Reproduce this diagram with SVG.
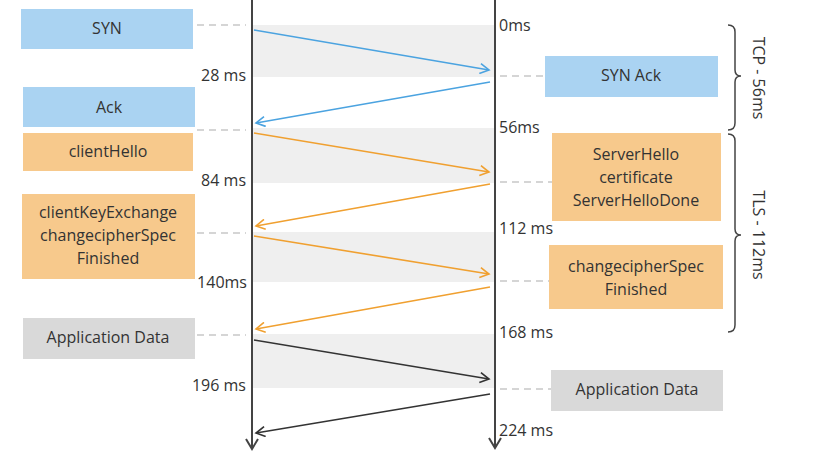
<svg xmlns="http://www.w3.org/2000/svg" width="816" height="463" viewBox="0 0 816 463">
<style>
text{font-family:"Open Sans","Liberation Sans",sans-serif;font-size:16px;fill:#333}
.c{text-anchor:middle}
.r{text-anchor:end}
.blue{fill:#aad3f2}
.orange{fill:#f7c98c}
.grey{fill:#d9d9d9}
.band{fill:#efefef}
.dash{stroke:#c8c8c8;stroke-width:1.5;stroke-dasharray:7 5;fill:none}
.axis{stroke:#444;stroke-width:2;fill:none}
.a{stroke-width:1.6;fill:none}
.ab{stroke:#4ba3e0}
.ao{stroke:#f0a030}
.ak{stroke:#333}
.brace{stroke:#444;stroke-width:1.5;fill:none}
</style>
<defs>
<marker id="mb" markerWidth="12" markerHeight="12" refX="10" refY="6" orient="auto" markerUnits="userSpaceOnUse"><path d="M1,1 L10,6 L1,11" fill="none" stroke="#4ba3e0" stroke-width="1.6"/></marker>
<marker id="mo" markerWidth="12" markerHeight="12" refX="10" refY="6" orient="auto" markerUnits="userSpaceOnUse"><path d="M1,1 L10,6 L1,11" fill="none" stroke="#f0a030" stroke-width="1.6"/></marker>
<marker id="mk" markerWidth="12" markerHeight="12" refX="10" refY="6" orient="auto" markerUnits="userSpaceOnUse"><path d="M1,1 L10,6 L1,11" fill="none" stroke="#333" stroke-width="1.6"/></marker>
<marker id="max" markerWidth="14" markerHeight="14" refX="11" refY="7" orient="auto" markerUnits="userSpaceOnUse"><path d="M1,1 L11,7 L1,13" fill="none" stroke="#444" stroke-width="2"/></marker>
</defs>
<g id="bands">
<rect class="band" x="252" y="25" width="243" height="52"/>
<rect class="band" x="252" y="128" width="243" height="55"/>
<rect class="band" x="252" y="232" width="243" height="50"/>
<rect class="band" x="252" y="334" width="243" height="54"/>
</g>
<g id="guides">
<line class="dash" x1="197" y1="25" x2="246" y2="25"/>
<line class="dash" x1="197" y1="130" x2="246" y2="130"/>
<line class="dash" x1="197" y1="233" x2="246" y2="233"/>
<line class="dash" x1="197" y1="335" x2="246" y2="335"/>
<line class="dash" x1="500" y1="76" x2="545" y2="76"/>
<line class="dash" x1="500" y1="182" x2="552" y2="182"/>
<line class="dash" x1="500" y1="281" x2="549" y2="281"/>
<line class="dash" x1="500" y1="389" x2="551" y2="389"/>
</g>
<g id="timelines">
<line class="axis" x1="252" y1="0" x2="252" y2="449" marker-end="url(#max)"/>
<line class="axis" x1="495" y1="0" x2="495" y2="448" marker-end="url(#max)"/>
</g>
<g id="connectors">
<line class="a ab" x1="254" y1="30" x2="489" y2="70" marker-end="url(#mb)"/>
<line class="a ab" x1="490" y1="82" x2="256" y2="123" marker-end="url(#mb)"/>
<line class="a ao" x1="254" y1="133" x2="489" y2="172" marker-end="url(#mo)"/>
<line class="a ao" x1="490" y1="184" x2="256" y2="226" marker-end="url(#mo)"/>
<line class="a ao" x1="254" y1="236" x2="489" y2="274" marker-end="url(#mo)"/>
<line class="a ao" x1="490" y1="287" x2="256" y2="329" marker-end="url(#mo)"/>
<line class="a ak" x1="254" y1="340" x2="489" y2="379" marker-end="url(#mk)"/>
<line class="a ak" x1="490" y1="394" x2="256" y2="433" marker-end="url(#mk)"/>
</g>
<g id="syn"><rect class="blue" x="21" y="9" width="172" height="40"/><text class="c" x="107" y="34">SYN</text></g>
<g id="ack"><rect class="blue" x="23" y="87" width="172" height="40"/><text class="c" x="109" y="113">Ack</text></g>
<g id="clienthello"><rect class="orange" x="23" y="133" width="170" height="38"/><text class="c" x="108" y="157">clientHello</text></g>
<g id="clientkey"><rect class="orange" x="22" y="194" width="173" height="85"/>
<text class="c" x="108" y="218">clientKeyExchange</text>
<text class="c" x="108" y="241">changecipherSpec</text>
<text class="c" x="108" y="264">Finished</text></g>
<g id="appdata-client"><rect class="grey" x="23" y="318" width="172" height="41"/><text class="c" x="108" y="343">Application Data</text></g>
<g id="synack"><rect class="blue" x="545" y="56" width="173" height="41"/><text class="c" x="631" y="81">SYN Ack</text></g>
<g id="serverhello"><rect class="orange" x="552" y="133" width="169" height="88"/>
<text class="c" x="636" y="160">ServerHello</text>
<text class="c" x="636" y="183">certificate</text>
<text class="c" x="636" y="206">ServerHelloDone</text></g>
<g id="server-ccs"><rect class="orange" x="549" y="245" width="174" height="64"/>
<text class="c" x="636" y="272">changecipherSpec</text>
<text class="c" x="636" y="295">Finished</text></g>
<g id="appdata-server"><rect class="grey" x="551" y="370" width="172" height="41"/><text class="c" x="637" y="395">Application Data</text></g>
<g id="times">
<text x="499" y="31">0ms</text>
<text class="r" x="246" y="81">28 ms</text>
<text x="499" y="133">56ms</text>
<text class="r" x="246" y="186">84 ms</text>
<text x="499" y="234">112 ms</text>
<text class="r" x="247" y="288">140ms</text>
<text x="499" y="338">168 ms</text>
<text class="r" x="246" y="391">196 ms</text>
<text x="499" y="436">224 ms</text>
</g>
<g id="tcp-brace">
<path class="brace" d="M728,25 Q735,25 735,32 L735,70 Q735,76 741,76 Q735,76 735,82 L735,123 Q735,130 728,130"/>
<text class="c" transform="translate(753,78) rotate(90)">TCP - 56ms</text>
</g>
<g id="tls-brace">
<path class="brace" d="M728,134 Q735,134 735,141 L735,229 Q735,235 741,235 Q735,235 735,241 L735,325 Q735,332 728,332"/>
<text class="c" transform="translate(753,235) rotate(90)">TLS - 112ms</text>
</g>
</svg>
